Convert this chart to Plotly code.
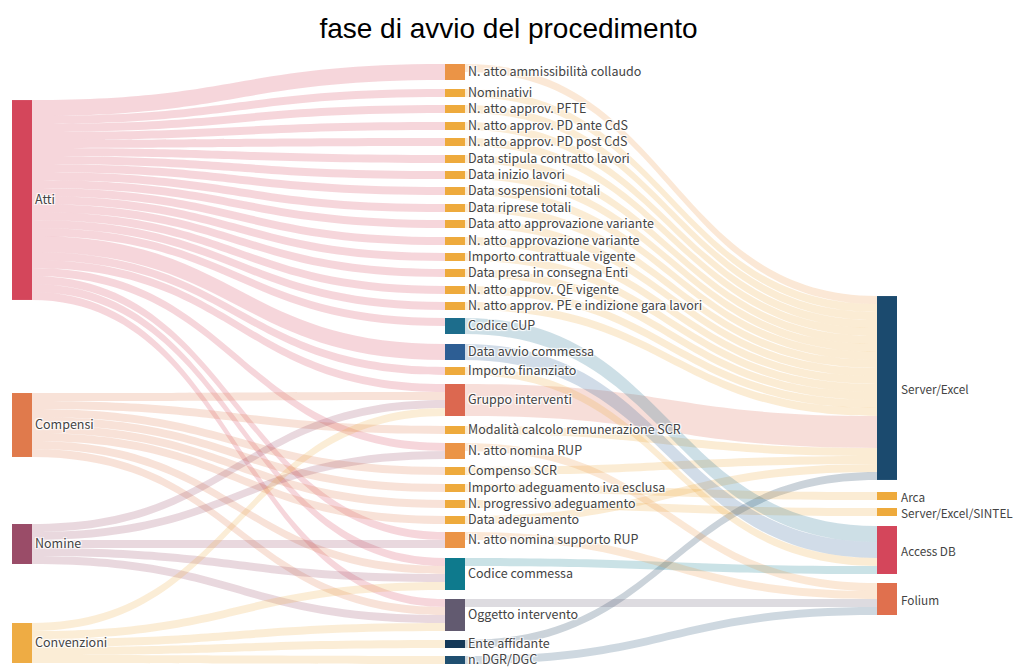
import plotly.graph_objects as go

# ---------------- data ----------------
left_nodes = ["Atti", "Compensi", "Nomine", "Convenzioni"]
mid_nodes = [
    "N. atto ammissibilità collaudo", "Nominativi", "N. atto approv. PFTE",
    "N. atto approv. PD ante CdS", "N. atto approv. PD post CdS",
    "Data stipula contratto lavori", "Data inizio lavori", "Data sospensioni totali",
    "Data riprese totali", "Data atto approvazione variante",
    "N. atto approvazione variante", "Importo contrattuale vigente",
    "Data presa in consegna Enti", "N. atto approv. QE vigente",
    "N. atto approv. PE e indizione gara lavori", "Codice CUP",
    "Data avvio commessa", "Importo finanziato", "Gruppo interventi",
    "Modalità calcolo remunerazione SCR", "N. atto nomina RUP", "Compenso SCR",
    "Importo adeguamento iva esclusa", "N. progressivo adeguamento",
    "Data adeguamento", "N. atto nomina supporto RUP", "Codice commessa",
    "Oggetto intervento", "Ente affidante", "n. DGR/DGC",
]
right_nodes = ["Server/Excel", "Arca", "Server/Excel/SINTEL", "Access DB", "Folium"]

link_source = (
    ["Atti"] * 23 + ["Compensi"] * 8 + ["Nomine"] * 5 + ["Convenzioni"] * 5
    + mid_nodes[0:15] + ["Gruppo interventi", "Modalità calcolo remunerazione SCR",
                         "Compenso SCR", "Data adeguamento", "Ente affidante",
                         "Importo adeguamento iva esclusa", "N. progressivo adeguamento",
                         "Codice CUP", "Data avvio commessa", "Importo finanziato",
                         "Codice commessa", "N. atto nomina RUP",
                         "N. atto nomina supporto RUP", "Oggetto intervento", "n. DGR/DGC"]
)
link_target = (
    mid_nodes[0:15] + ["Codice CUP", "Data avvio commessa", "Importo finanziato",
                       "Gruppo interventi", "N. atto nomina RUP",
                       "N. atto nomina supporto RUP", "Codice commessa", "Oggetto intervento"]
    + ["Gruppo interventi", "Modalità calcolo remunerazione SCR", "Compenso SCR",
       "Importo adeguamento iva esclusa", "N. progressivo adeguamento",
       "Data adeguamento", "Codice commessa", "Oggetto intervento"]
    + ["Gruppo interventi", "N. atto nomina RUP", "N. atto nomina supporto RUP",
       "Codice commessa", "Oggetto intervento"]
    + ["Gruppo interventi", "Codice commessa", "Oggetto intervento",
       "Ente affidante", "n. DGR/DGC"]
    + ["Server/Excel"] * 20
    + ["Arca", "Server/Excel/SINTEL", "Access DB", "Access DB", "Access DB",
       "Access DB", "Folium", "Folium", "Folium", "Folium"]
)
link_value = (
    [2] + [1] * 14 + [1, 2, 1, 1, 1, 1, 1, 1]
    + [1] * 8
    + [1] * 5
    + [1] * 5
    + [1] * 15 + [4, 1, 1, 1, 1]
    + [1, 1, 2, 2, 1, 1, 1, 1, 1, 1]
)

# ---------------- styles / layout ----------------
C_ATTI, C_COMP, C_NOM, C_CONV = "#d4465b", "#e07a4c", "#9a4c68", "#eeac44"
C_OR, C_YE = "#eb9446", "#eeaa3c"
mid_colors = ([C_OR] + [C_YE] * 14 + ["#1d6d8c", "#2d5e94", C_YE, "#dc6850", C_YE, C_OR,
              C_YE, C_YE, C_YE, C_YE, C_OR, "#0e7a8d", "#625a70", "#143858", "#1f4f70"])
left_colors = [C_ATTI, C_COMP, C_NOM, C_CONV]
right_colors = ["#1b4a6e", C_YE, C_YE, "#d4465b", "#e0704e"]

W, H = 1017, 667
TOP = 60          # sankey area top (px)
THICK = 20
# node centres (px) in the reference picture
left_x, mid_x, right_x = 22, 455, 887
left_y = [200, 425, 544, 643]
mid_y = [72, 93, 109, 126, 142, 159, 175, 191, 208, 224, 241, 257, 273, 290, 306,
         326, 352, 371, 400, 430, 451, 471, 488, 504, 520, 540, 574, 615, 644, 660]
right_y = [388, 496, 512, 550, 599]

labels = left_nodes + mid_nodes + [""] * len(right_nodes)
colors = left_colors + mid_colors + right_colors
names = left_nodes + mid_nodes + right_nodes
idx = {n: i for i, n in enumerate(names)}
area_h = H - TOP
xs = [x / W for x in [left_x] * 4 + [mid_x] * 30 + [right_x] * 5]
ys = [(y - TOP) / area_h for y in left_y + mid_y + right_y]


def rgba(hexc, a):
    h = hexc.lstrip("#")
    return "rgba(%d,%d,%d,%s)" % (int(h[0:2], 16), int(h[2:4], 16), int(h[4:6], 16), a)


link_colors = [rgba(colors[idx[s]], 0.22) for s in link_source]

LABEL_FONT = dict(family="Noto Sans CJK SC", size=12.5, color="#444444")
RIGHT_FONT = dict(family="Noto Sans CJK SC", size=11.8, color="#444444")

fig = go.Figure(go.Sankey(
    arrangement="fixed",
    domain=dict(x=[0, 1], y=[0, 1 - TOP / H]),
    node=dict(
        label=labels,
        color=colors,
        x=xs,
        y=ys,
        pad=8.8,
        thickness=THICK,
        line=dict(width=0),
    ),
    link=dict(
        source=[idx[s] for s in link_source],
        target=[idx[t] for t in link_target],
        value=link_value,
        color=link_colors,
    ),
    textfont=LABEL_FONT,
    hoverinfo="none",
))

# right-column labels placed to the right of their nodes (as in the reference)
annotations = []
for name, yc in zip(right_nodes, right_y):
    annotations.append(dict(
        text=name, x=(right_x + THICK / 2 + 3) / W, xref="paper", xanchor="left",
        y=1 - yc / H, yref="paper", yanchor="middle", showarrow=False,
        font=RIGHT_FONT, borderpad=0,
    ))

fig.update_layout(
    width=W, height=H,
    margin=dict(l=0, r=0, t=0, b=0),
    paper_bgcolor="white",
    annotations=annotations,
    title=dict(text="fase di avvio del procedimento", x=0.5, xanchor="center",
               y=1 - 28 / H, yanchor="middle", yref="container",
               font=dict(family="Liberation Sans", size=28, color="#000000")),
)

fig.write_html("out.html", config={"displayModeBar": False},
               post_script="document.body.style.margin='0';document.body.style.padding='0';")
